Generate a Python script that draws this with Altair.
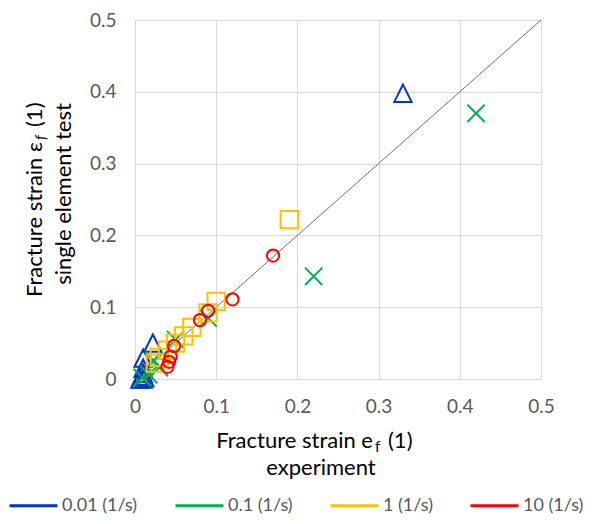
import altair as alt
import pandas as pd

# strain rate series (legend order)
rates = ["0.01 (1/s)", "0.1 (1/s)", "1 (1/s)", "10 (1/s)"]
colors = ["#0033CC", "#00B050", "#FFC000", "#FF0000"]

# experiment (x) vs single element test (y)
x_001 = [0.33, 0.022, 0.01, 0.01, 0.01, 0.008, 0.012, 0.006, 0.01]
y_001 = [0.398, 0.05, 0.029, 0.015, 0.008, 0.004, 0.002, 0.0, 0.0]

x_01 = [0.42, 0.22, 0.09, 0.05, 0.03, 0.023, 0.017, 0.009]
y_01 = [0.37, 0.143, 0.085, 0.055, 0.016, 0.026, 0.006, 0.002]

x_1 = [0.19, 0.10, 0.09, 0.07, 0.06, 0.05, 0.04, 0.03, 0.025]
y_1 = [0.222, 0.108, 0.092, 0.072, 0.06, 0.05, 0.04, 0.03, 0.022]

x_10 = [0.17, 0.12, 0.09, 0.08, 0.048, 0.044, 0.042, 0.04]
y_10 = [0.172, 0.111, 0.095, 0.082, 0.046, 0.031, 0.024, 0.017]

diag_x = [0.0, 0.5]
diag_y = [0.0, 0.5]
ticks = [0, 0.1, 0.2, 0.3, 0.4, 0.5]

FONT = "Lato"
GREY = "#595959"

frames = []
for r, xs, ys in zip(rates, [x_001, x_01, x_1, x_10], [y_001, y_01, y_1, y_10]):
    frames.append(pd.DataFrame({"x": xs, "y": ys, "rate": r}))
data = pd.concat(frames, ignore_index=True)

xsc = alt.Scale(domain=[0, 0.5], nice=False, zero=False)
ysc = alt.Scale(domain=[0, 0.5], nice=False, zero=False)
csc = alt.Scale(domain=rates, range=colors)

x_enc = alt.X("x:Q", scale=xsc, title=None,
              axis=alt.Axis(values=ticks, format="~g", labelFlush=False, labelPadding=18))
y_enc = alt.Y("y:Q", scale=ysc, title=None,
              axis=alt.Axis(values=ticks, format="~g", labelPadding=19))

diag = alt.Chart(pd.DataFrame({"x": diag_x, "y": diag_y})).mark_line(
    color="#404040", strokeWidth=0.75
).encode(x=x_enc, y=y_enc)

tri = "M0,-1L1,1L-1,1Z"
cross = "M-1,-1L1,1M-1,1L1,-1"
shapes = [(tri, 300), (cross, 300), ("square", 300), ("circle", 150)]

layers = [diag]
for r, (shp, sz) in zip(rates, shapes):
    layers.append(
        alt.Chart(data).transform_filter(alt.datum.rate == r).mark_point(
            shape=shp, size=sz, filled=False, strokeWidth=2, opacity=1
        ).encode(
            x=x_enc, y=y_enc,
            color=alt.Color("rate:N", scale=csc, sort=rates, title=None),
        )
    )

# axis titles (with subscript f drawn as its own text)
def txt(s, x, y, size=22, align="center", baseline="alphabetic", angle=0, style="normal"):
    return alt.Chart(pd.DataFrame({"t": [s]})).mark_text(
        font=FONT, fontSize=size, color="#000000", align=align, baseline=baseline,
        angle=angle, fontStyle=style
    ).encode(x=alt.value(x), y=alt.value(y), text="t:N")

titles = [
    txt("Fracture strain e", 238, 428, align="right"),
    txt("f", 240, 432, size=15, align="left"),
    txt("(1)", 253, 428, align="left"),
    txt("experiment", 186, 455),
    txt("Fracture strain \u03b5", -100, 122, align="right", baseline="middle", angle=270),
    txt("f", -94, 120, size=15, align="left", baseline="middle", angle=270, style="italic"),
    txt("(1)", -100, 107, align="left", baseline="middle", angle=270),
    txt("single element test", -71, 174, baseline="middle", angle=270),
]

chart = alt.layer(*layers, *titles).properties(
    width=406, height=359,
    autosize=alt.AutoSizeParams(type="none"),
    padding={"left": 127, "top": 12, "right": 50, "bottom": 142},
).configure_axis(
    grid=True, gridColor="#D9D9D9", gridWidth=1, domain=False, ticks=False,
    labelFont=FONT, labelFontSize=19, labelColor=GREY, labelOverlap=False,
).configure_view(
    stroke=None
).configure_legend(
    orient="none", legendX=-127, legendY=460, direction="horizontal",
    symbolType="stroke", symbolSize=2304, symbolStrokeWidth=3,
    labelFont=FONT, labelFontSize=18, labelColor=GREY, labelOffset=3,
    columnPadding=31, title=None,
)

chart.save("out.html", embed_options={"renderer": "svg", "actions": False})
